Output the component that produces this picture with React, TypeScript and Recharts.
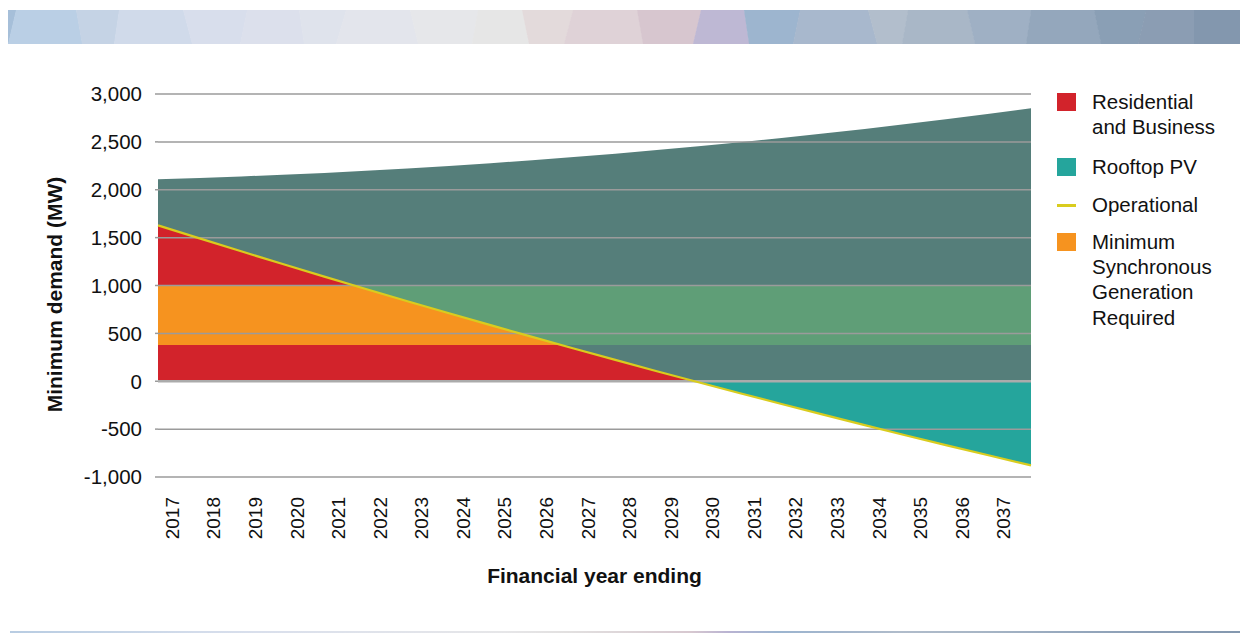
import React from 'react';
import { ComposedChart, Area, Line, XAxis, YAxis, ReferenceLine, Legend, Label } from 'recharts';

// x positions: start of each financial-year band (2038 = end of FY2037)
const years = [2017, 2018, 2019, 2020, 2021, 2022, 2023, 2024, 2025, 2026, 2027, 2028, 2029, 2030, 2031, 2032, 2033, 2034, 2035, 2036, 2037, 2038];
const yearLabels = [2017, 2018, 2019, 2020, 2021, 2022, 2023, 2024, 2025, 2026, 2027, 2028, 2029, 2030, 2031, 2032, 2033, 2034, 2035, 2036, 2037];

// Underlying (residential and business) minimum demand, MW
const residentialBusiness = [2110, 2123, 2139, 2156, 2176, 2198, 2223, 2249, 2278, 2309, 2342, 2377, 2415, 2454, 2496, 2540, 2587, 2635, 2686, 2739, 2794, 2851];
// Rooftop PV offset, MW
const rooftopPV = [482, 631, 782, 931, 1083, 1234, 1387, 1539, 1692, 1846, 2000, 2154, 2310, 2465, 2621, 2778, 2936, 3093, 3252, 3411, 3570, 3730];
// Operational minimum demand, MW
const operational = [1628, 1492, 1357, 1225, 1093, 964, 836, 710, 586, 463, 342, 223, 105, -11, -125, -238, -349, -458, -566, -672, -776, -879];
// Minimum synchronous generation band, MW
const msgBand = [380, 1000];

const yTicks = [-1000, -500, 0, 500, 1000, 1500, 2000, 2500, 3000];

// decorative header banner facets (page x boundaries, colours)
const bannerEdges = [8, 16, 76, 119, 183, 247, 299, 346, 410, 478, 522, 573, 637, 701, 744, 800, 868, 908, 967, 1031, 1094, 1146, 1194, 1248];
const bannerColors = ['#A6BFD9', '#BACFE5', '#C5D3E5', '#D0DAEA', '#D8DEEC', '#DCE0EC', '#DFE3EC', '#E3E5EC', '#E6E7EA', '#E6E6E6', '#E3DADB', '#DFD2D7', '#D7C6CF', '#BEB8D4', '#9DB5CF', '#A8B8CD', '#B2BECC', '#A9B7C7', '#9FB0C4', '#94A7BC', '#8A9FB5', '#8B9DB3', '#8397AE'];
const bannerSlant = [0, -8, 6, -5, 9, -7, 5, -10, 8, -6, 7, -9, 6, -8, 5, -7, 9, -6, 8, -5, 7, -8, 0, 0];

const FONT = 'Helvetica, "Liberation Sans", Arial, sans-serif';
const C = {
  red: '#D2232B',
  teal: '#25A59C',
  slate: '#557E7A',
  green: '#5F9E77',
  orange: '#F6931F',
  yellow: '#D9CC1E',
  grid: '#9B9B9B',
  zero: '#ABABAB',
  text: '#111111',
};

const data = years.map((year, i) => ({
  year,
  pvRange: [residentialBusiness[i] - rooftopPV[i], residentialBusiness[i]],
  resRange: [0, residentialBusiness[i] - rooftopPV[i]],
  operational: operational[i],
}));

const frac = (top: number, bottom: number, v: number) => (top - v) / (top - bottom);
const pvTop = Math.max(...residentialBusiness);
const pvBottom = Math.min(...residentialBusiness.map((r, i) => r - rooftopPV[i]));
const resTop = Math.max(0, ...operational);
const resBottom = Math.min(0, ...operational);
const [msgLo, msgHi] = msgBand;

const XTick = (props: any) => {
  const { x, y, payload } = props;
  return (
    <text
      x={x}
      y={y}
      transform={`rotate(-90, ${x}, ${y})`}
      textAnchor="end"
      fontSize={19}
      fill={C.text}
      fontFamily={FONT}
    >
      {Math.floor(payload.value)}
    </text>
  );
};

const XTitle = (props: any) => {
  const vb = props.viewBox || {};
  return (
    <text
      x={vb.x + vb.width / 2}
      y={vb.y + 98}
      textAnchor="middle"
      dominantBaseline="central"
      fontSize={21}
      fontWeight="bold"
      fill={C.text}
      fontFamily={FONT}
    >
      Financial year ending
    </text>
  );
};

const YTitle = (props: any) => {
  const vb = props.viewBox || {};
  const x = vb.x - 4;
  const y = vb.y + vb.height / 2 + 9;
  return (
    <text
      x={x}
      y={y}
      transform={`rotate(-90, ${x}, ${y})`}
      textAnchor="middle"
      dominantBaseline="central"
      fontSize={21}
      fontWeight="bold"
      fill={C.text}
      fontFamily={FONT}
    >
      Minimum demand (MW)
    </text>
  );
};

const legendItems = [
  { lines: ['Residential', 'and Business'], color: C.red, kind: 'square', gap: 14 },
  { lines: ['Rooftop PV'], color: C.teal, kind: 'square', gap: 13 },
  { lines: ['Operational'], color: C.yellow, kind: 'line', gap: 11 },
  { lines: ['Minimum', 'Synchronous', 'Generation', 'Required'], color: C.orange, kind: 'square', gap: 0 },
];

const LegendBox = () => (
  <div style={{ fontFamily: FONT, fontSize: 20.5, lineHeight: '25.4px', color: C.text }}>
    {legendItems.map((it) => (
      <div key={it.lines[0]} style={{ display: 'flex', marginBottom: it.gap }}>
        <div style={{ width: 19, marginRight: 16, flexShrink: 0 }}>
          {it.kind === 'square' ? (
            <div style={{ width: 19, height: 18, marginTop: 4, background: it.color }} />
          ) : (
            <div style={{ width: 19, height: 2.5, marginTop: 12, background: it.color }} />
          )}
        </div>
        <div style={{ whiteSpace: 'nowrap' }}>
          {it.lines.map((l) => (
            <div key={l}>{l}</div>
          ))}
        </div>
      </div>
    ))}
  </div>
);

const BANNER_BG =
  'linear-gradient(90deg, #B8CCE2 0%, #C5D4E6 8%, #D3DCEB 15%, #D9DFEC 20%, #DEE2EB 27%, #E2E4EA 33%, #E6E6E8 40%, #E2E0E0 45%, #DDD5D8 50%, #D7C8D0 55%, #B9B3D2 58%, #9CB5D0 62%, #A4B6CC 67%, #B0BCCB 72%, #A8B6C6 78%, #97A9BE 85%, #8B9EB5 92%, #8397AE 100%)';

const Banner = () => (
  <svg
    width={1248}
    height={634}
    style={{ position: 'absolute', left: 0, top: 0, pointerEvents: 'none' }}
  >
    {bannerColors.map((col, i) => {
      const t0 = bannerEdges[i];
      const t1 = bannerEdges[i + 1];
      const b0 = t0 + bannerSlant[i];
      const b1 = t1 + bannerSlant[i + 1];
      return (
        <polygon
          key={i}
          points={`${t0},10 ${t1 + 0.5},10 ${b1 + 0.5},44 ${b0},44`}
          fill={col}
        />
      );
    })}
  </svg>
);

export default function App() {
  return (
    <div style={{ position: 'relative', width: 1240, height: 626 }}>
      <style>{'html, body { overflow: hidden; }'}</style>
      <div style={{ position: 'absolute', left: -8, top: -8, width: 1248, height: 634 }}>
        <Banner />
        <div style={{ position: 'absolute', left: 10, top: 631, width: 1238, height: 2, background: BANNER_BG }} />
        <ComposedChart
          width={1248}
          height={634}
          data={data}
          margin={{ top: 94, right: 217, bottom: 0, left: 58 }}
        >
          <defs>
            <linearGradient id="pvFill" x1="0" y1="0" x2="0" y2="1">
              <stop offset={0} stopColor={C.slate} />
              <stop offset={frac(pvTop, pvBottom, msgHi)} stopColor={C.slate} />
              <stop offset={frac(pvTop, pvBottom, msgHi)} stopColor={C.green} />
              <stop offset={frac(pvTop, pvBottom, msgLo)} stopColor={C.green} />
              <stop offset={frac(pvTop, pvBottom, msgLo)} stopColor={C.slate} />
              <stop offset={frac(pvTop, pvBottom, 0)} stopColor={C.slate} />
              <stop offset={frac(pvTop, pvBottom, 0)} stopColor={C.teal} />
              <stop offset={1} stopColor={C.teal} />
            </linearGradient>
            <linearGradient id="resFill" x1="0" y1="0" x2="0" y2="1">
              <stop offset={0} stopColor={C.red} />
              <stop offset={frac(resTop, resBottom, msgHi)} stopColor={C.red} />
              <stop offset={frac(resTop, resBottom, msgHi)} stopColor={C.orange} />
              <stop offset={frac(resTop, resBottom, msgLo)} stopColor={C.orange} />
              <stop offset={frac(resTop, resBottom, msgLo)} stopColor={C.red} />
              <stop offset={frac(resTop, resBottom, 0)} stopColor={C.red} />
              <stop offset={frac(resTop, resBottom, 0)} stopColor={C.red} stopOpacity={0} />
              <stop offset={1} stopColor={C.red} stopOpacity={0} />
            </linearGradient>
          </defs>
          <XAxis
            dataKey="year"
            type="number"
            domain={[years[0], years[years.length - 1]]}
            ticks={yearLabels.map((y) => y + 0.5)}
            tick={<XTick />}
            tickLine={false}
            axisLine={false}
            tickSize={0}
            tickMargin={20}
            height={157}
            interval={0}
          >
            <Label content={<XTitle />} />
          </XAxis>
          <YAxis
            type="number"
            domain={[-1000, 3000]}
            ticks={yTicks}
            width={100}
            axisLine={false}
            tickLine={{ stroke: C.grid, strokeWidth: 1.5 }}
            tickSize={3}
            tickMargin={13}
            tick={{ fontSize: 20.5, fill: C.text, fontFamily: FONT }}
            tickFormatter={(v: number) => v.toLocaleString('en-US')}
            interval={0}
          >
            <Label content={<YTitle />} />
          </YAxis>
          <Area
            type="linear"
            dataKey="pvRange"
            name="Rooftop PV"
            stroke="none"
            fill="url(#pvFill)"
            fillOpacity={1}
            isAnimationActive={false}
            activeDot={false}
          />
          <Area
            type="linear"
            dataKey="resRange"
            name="Residential and Business"
            stroke="none"
            fill="url(#resFill)"
            fillOpacity={1}
            isAnimationActive={false}
            activeDot={false}
          />
          {yTicks.map((t) => (
            <ReferenceLine
              key={t}
              y={t}
              stroke={t === 0 ? C.zero : C.grid}
              strokeWidth={t === 0 ? 2.5 : 1.5}
            />
          ))}
          <Line
            type="linear"
            dataKey="operational"
            name="Operational"
            stroke={C.yellow}
            strokeWidth={2.2}
            dot={false}
            activeDot={false}
            isAnimationActive={false}
          />
          <Legend
            layout="horizontal"
            align="center"
            verticalAlign="middle"
            content={() => <LegendBox />}
            wrapperStyle={{ left: 1057, top: 89, width: 185, height: 240 }}
          />
        </ComposedChart>
      </div>
    </div>
  );
}
